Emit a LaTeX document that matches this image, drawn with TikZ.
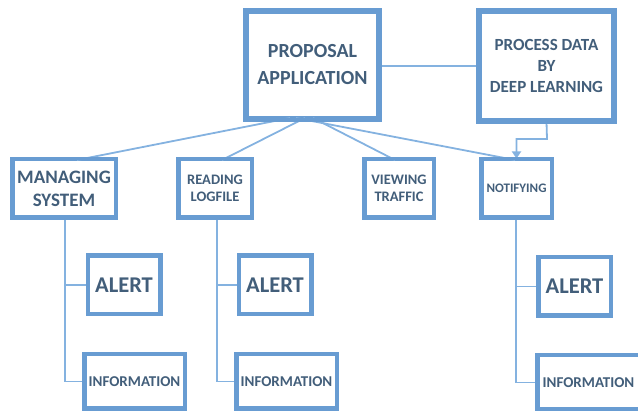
\documentclass[tikz,border=0pt]{standalone}
\usepackage{fontspec}
\setmainfont{Carlito}
\usetikzlibrary{arrows.meta}
\definecolor{boxblue}{RGB}{104,156,210}
\definecolor{linkblue}{RGB}{132,178,224}
\definecolor{inkslate}{RGB}{66,94,122}
\tikzset{
  box/.style={draw=boxblue, line width=3pt, fill=white, inner sep=0pt,
    align=center, text=inkslate, font=\bfseries},
  bigbox/.style={box, line width=3.6pt},
  link/.style={draw=linkblue, line width=1.8pt},
  alertbox/.style={box, minimum width=71pt, minimum height=57pt,
    font=\bfseries\fontsize{22.5}{26}\selectfont},
  infobox/.style={box, minimum width=99pt, minimum height=53pt,
    font=\bfseries\fontsize{15}{18}\selectfont},
}
\begin{document}
\begin{tikzpicture}[x=1pt, y=-1pt]
  \useasboundingbox (0,0) rectangle (638,411);
  \clip (0,0) rectangle (638,411);

  % top level
  \node[bigbox, minimum width=131pt, minimum height=106pt,
        font=\bfseries\fontsize{20}{27}\selectfont]
    (prop) at (312.5,65) {PROPOSAL\\APPLICATION};
  \node[bigbox, minimum width=133pt, minimum height=108pt,
        font=\bfseries\fontsize{17}{21}\selectfont]
    (proc) at (546.5,66) {PROCESS DATA\\BY\\DEEP LEARNING};

  % second level
  \node[box, minimum width=102pt, minimum height=57pt,
        font=\bfseries\fontsize{19}{23}\selectfont]
    (mng) at (64,188.5) {MANAGING\\SYSTEM};
  \node[box, minimum width=72pt, minimum height=57pt,
        font=\bfseries\fontsize{14.5}{17}\selectfont]
    (rdl) at (215,188.5) {READING\\LOGFILE};
  \node[box, minimum width=68pt, minimum height=57pt,
        font=\bfseries\fontsize{14.5}{17}\selectfont]
    (vwt) at (399,188.5) {VIEWING\\TRAFFIC};
  \node[box, minimum width=69pt, minimum height=57pt,
        font=\bfseries\fontsize{13}{16}\selectfont]
    (ntf) at (516.5,188.5) {NOTIFYING};

  % third level
  \node[alertbox] (al1) at (124,285) {ALERT};
  \node[alertbox] (al2) at (275,285) {ALERT};
  \node[alertbox] (al3) at (574.5,286.5) {ALERT};
  \node[infobox] (in1) at (134.5,381.5) {INFORMATION};
  \node[infobox] (in2) at (286.5,381.5) {INFORMATION};
  \node[infobox, minimum width=101pt] (in3) at (588.5,382.5) {INFORMATION};

  % fan-out from the application box
  \coordinate (pa) at (290,118);
  \coordinate (pb) at (305,118);
  \coordinate (pc) at (313,118);
  \coordinate (pd) at (296,118);
  \coordinate (ma) at (77,160);
  \coordinate (ra) at (222,160);
  \coordinate (va) at (395,160);
  \coordinate (na) at (515,160);
  \draw[link] (pa) -- (ma);
  \draw[link] (pb) -- (ra);
  \draw[link] (pc) -- (va);
  \draw[link] (pd) -- (na);
  \draw[link] (prop.east |- 0,66) -- (proc.west |- 0,66);

  % processing result feeds notification
  \coordinate (bend1) at (547,139);
  \coordinate (bend2) at (516.5,139);
  \draw[link, -{Triangle[width=9pt,length=7pt]}]
    (proc.south) -- (bend1) -- (bend2) -- (ntf.north);

  % branches below each module
  \coordinate (m1) at (65,217);
  \coordinate (r1) at (217,217);
  \coordinate (n1) at (516,217);
  \draw[link] (m1) |- (al1.west);
  \draw[link] (m1) |- (in1.west);
  \draw[link] (r1) |- (al2.west);
  \draw[link] (r1) |- (in2.west);
  \draw[link] (n1) |- (al3.west);
  \draw[link] (n1) |- (in3.west);

  % redraw box frames over the connector ends
  \foreach \n in {prop,proc}{\draw[boxblue, line width=3.6pt] (\n.south west) rectangle (\n.north east);}
  \foreach \n in {mng,rdl,vwt,ntf,al1,al2,al3,in1,in2,in3}{\draw[boxblue, line width=3pt] (\n.south west) rectangle (\n.north east);}
\end{tikzpicture}
\end{document}
